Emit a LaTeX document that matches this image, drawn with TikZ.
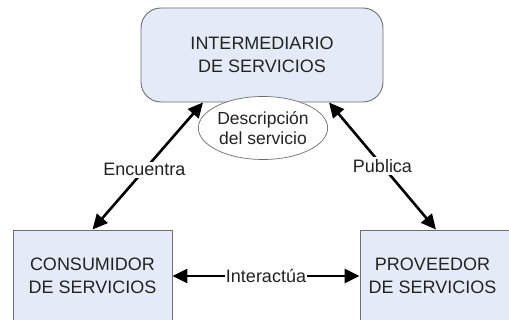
\documentclass[tikz,border=0pt]{standalone}
\usepackage{fontspec}
\setmainfont{Liberation Sans}
\usetikzlibrary{arrows.meta,shapes.geometric,calc}
\definecolor{boxfill}{RGB}{228,234,246}
\definecolor{boxline}{RGB}{110,110,115}
\definecolor{txt}{RGB}{35,35,35}
\begin{document}
\begin{tikzpicture}[x=1pt,y=-1pt,
  every node/.style={font=\fontsize{18}{21}\selectfont,text=txt},
  sbox/.style={draw=boxline,fill=boxfill,line width=0.9pt,inner sep=0pt,align=center},
  arr/.style={line width=2.6pt,{Triangle[length=15pt,width=14pt]}-{Triangle[length=15pt,width=14pt]}},
  lbl/.style={fill=white,inner sep=2pt}]
\clip (0,0) rectangle (509,320);
\fill[white] (0,0) rectangle (509,320);
\node[sbox,rounded corners=20pt,minimum width=242pt,minimum height=94pt,
  font=\fontsize{18}{23}\selectfont] (interm) at (262,55) {INTERMEDIARIO\\DE SERVICIOS};
\node[sbox,minimum width=159pt,minimum height=92pt,font=\fontsize{18}{23}\selectfont]
  (cons) at (92.5,276) {CONSUMIDOR\\DE SERVICIOS};
\node[sbox,minimum width=152pt,minimum height=92pt,font=\fontsize{18}{23}\selectfont]
  (prov) at (436,276) {\hspace*{-7pt}PROVEEDOR\\\hspace*{-7pt}DE SERVICIOS};
\node[ellipse,draw=boxline,fill=white,line width=0.7pt,minimum width=129pt,minimum height=63pt,
  inner sep=0pt,align=center,font=\fontsize{17.5}{20}\selectfont] (desc) at (263,128)
  {Descripción\\del servicio};
\coordinate (tl) at ($(interm.south)+(-59,0)$);
\coordinate (tr) at ($(interm.south)+(67,0)$);
\draw[arr] (cons.north) -- node[lbl,pos=0.47]{Encuentra} (tl);
\draw[arr] (tr) -- node[lbl,pos=0.5]{Publica} (prov.north);
\draw[arr] (cons.east) -- node[lbl,inner sep=1pt]{Interactúa} (prov.west);
\end{tikzpicture}
\end{document}
